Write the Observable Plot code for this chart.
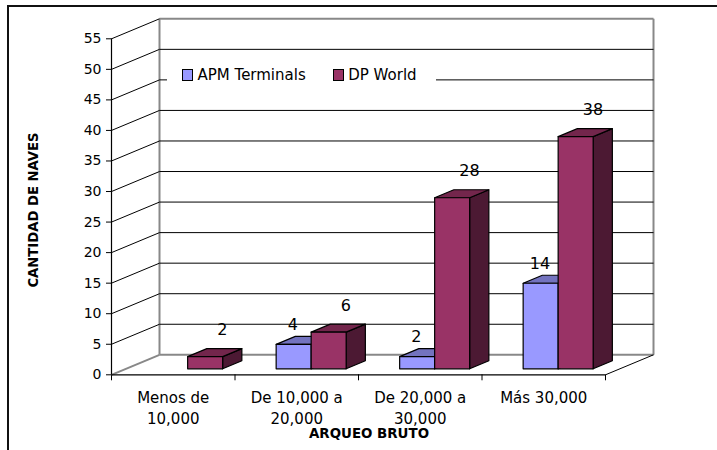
<!DOCTYPE html>
<html>
<head>
<meta charset="utf-8">
<script src="https://cdn.jsdelivr.net/npm/d3@7"></script>
<script src="https://cdn.jsdelivr.net/npm/@observablehq/plot@0.6"></script>
<style>
  body { margin: 0; background: #fff; }
  #wrap { position: relative; width: 717px; height: 450px; overflow: hidden; font-family: "DejaVu Sans", sans-serif; color: #000; }
  #wrap svg { position: absolute; left: 0; top: 0; }
  .frame { position: absolute; left: 7px; top: 4.5px; width: 800px; height: 500px; border-top: 2px solid #111; border-left: 2px solid #111; pointer-events: none; }
  .ytitle { position: absolute; left: 33px; top: 210px; transform: translate(-50%, -50%) rotate(-90deg); font-weight: bold; font-size: 13.2px; white-space: nowrap; }
  .xtitle { position: absolute; left: 369px; top: 433px; transform: translate(-50%, -50%); font-weight: bold; font-size: 13.4px; white-space: nowrap; }
  .legend { position: absolute; left: 167px; top: 61px; width: 269px; height: 27px; background: #fff; display: flex; align-items: center; font-size: 15px; white-space: nowrap; }
  .legend .item { display: flex; align-items: center; }
  .legend .sw { display: inline-block; width: 9px; height: 10px; border: 1px solid #000; margin-right: 4.5px; }
</style>
</head>
<body>
<div id="wrap"></div>
<script>
// ---- data ----
const categories = ["Menos de\n10,000", "De 10,000 a\n20,000", "De 20,000 a\n30,000", "Más 30,000"];
const seriesNames = ["APM Terminals", "DP World"];
const apmValues = [0, 4, 2, 14];
const dpValues = [2, 6, 28, 38];
const yTicks = [0, 5, 10, 15, 20, 25, 30, 35, 40, 45, 50, 55];
const xTitle = "ARQUEO BRUTO";
const yTitle = "CANTIDAD DE NAVES";

// ---- styles ----
const frontColors = ["#9999FF", "#993366"];
const topColors = ["#7373BF", "#73264C"];
const sideColors = ["#4C4C80", "#4C1933"];

// 3D projection: full depth expressed in scale units
const DX = 0.3887;   // category units
const DY = 3.274;    // value units
const BAR_W = 0.2834;
const D0 = 0.3, D1 = 0.7;
const P = (x, y, d) => ({x: x + d * DX, y: y + d * DY});

const seriesValues = [apmValues, dpValues];
const bars = [];
seriesValues.forEach((vals, s) => {
  vals.forEach((v, i) => {
    if (v <= 0) return;
    const c = i + 0.5;
    const xa = s === 0 ? c - BAR_W : c;
    const xb = xa + BAR_W;
    bars.push({s, i, v, xa, xb, cx: (xa + xb) / 2});
  });
});

function faces(kind, s) {
  const out = [];
  bars.filter(b => b.s === s).forEach(b => {
    const id = kind + s + "-" + b.i;
    let pts;
    if (kind === "front") pts = [P(b.xa, 0, D0), P(b.xb, 0, D0), P(b.xb, b.v, D0), P(b.xa, b.v, D0)];
    else if (kind === "top") pts = [P(b.xa, b.v, D0), P(b.xb, b.v, D0), P(b.xb, b.v, D1), P(b.xa, b.v, D1)];
    else pts = [P(b.xb, 0, D0), P(b.xb, 0, D1), P(b.xb, b.v, D1), P(b.xb, b.v, D0)];
    pts.forEach(p => out.push({id, x: p.x, y: p.y}));
  });
  return out;
}

const nCat = categories.length;
const yMax = yTicks[yTicks.length - 1];
// wall structure from ticks
const diagonals = yTicks.filter(v => v > 0).map(v => ({x1: 0, y1: v, x2: DX, y2: v + DY}));
const backGrid = yTicks.filter(v => v > 0 && v < yMax).map(v => ({x1: DX, y1: v + DY, x2: nCat + DX, y2: v + DY}));
const wallEdges = [
  {x1: DX, y1: DY, x2: DX, y2: yMax + DY},
  {x1: nCat + DX, y1: DY, x2: nCat + DX, y2: yMax + DY},
  {x1: DX, y1: yMax + DY, x2: nCat + DX, y2: yMax + DY},
  {x1: DX, y1: DY, x2: nCat + DX, y2: DY},
  {x1: 0, y1: 0, x2: DX, y2: DY}
];
const floorRight = [{x1: nCat, y1: 0, x2: nCat + DX, y2: DY}];

const barMarks = [];
[0, 1].forEach(s => {
  barMarks.push(Plot.line(faces("side", s), {x: "x", y: "y", z: "id", fill: sideColors[s], stroke: "#000", strokeWidth: 1.2, curve: "linear-closed", strokeLinejoin: "round"}));
  barMarks.push(Plot.line(faces("top", s), {x: "x", y: "y", z: "id", fill: topColors[s], stroke: "#000", strokeWidth: 1.2, curve: "linear-closed", strokeLinejoin: "round"}));
  barMarks.push(Plot.line(faces("front", s), {x: "x", y: "y", z: "id", fill: frontColors[s], stroke: "#000", strokeWidth: 1.2, curve: "linear-closed", strokeLinejoin: "round"}));
});

const labelOffsets = [{dx: -0.7, dy: -19.3}, {dx: 17.3, dy: -26.5}];
const labelMarks = [0, 1].map(s => Plot.text(bars.filter(b => b.s === s), {
  x: b => b.cx + D0 * DX, y: b => b.v + D0 * DY, text: b => String(b.v),
  dx: labelOffsets[s].dx, dy: labelOffsets[s].dy, fontSize: 16, fill: "#000", textAnchor: "middle", lineAnchor: "middle"
}));

const catData = categories.map((c, i) => ({label: c, x: i + 0.5}));

const chart = Plot.plot({
  width: 717,
  height: 450,
  marginLeft: 111,
  marginRight: 112,
  marginTop: 38.3,
  marginBottom: 75.7,
  style: {fontFamily: "DejaVu Sans, sans-serif", fontSize: "14px", background: "transparent", color: "#000"},
  x: {domain: [0, nCat], ticks: d3.range(nCat + 1), tickFormat: () => "", tickSize: 6, label: null},
  y: {domain: [0, yMax], ticks: yTicks, tickSize: 5, tickPadding: 5, label: null},
  marks: [
    Plot.link(wallEdges, {x1: "x1", y1: "y1", x2: "x2", y2: "y2", stroke: "#888", strokeWidth: 2}),
    Plot.link(backGrid, {x1: "x1", y1: "y1", x2: "x2", y2: "y2", stroke: "#000", strokeWidth: 1}),
    Plot.link(diagonals, {x1: "x1", y1: "y1", x2: "x2", y2: "y2", stroke: "#000", strokeWidth: 1}),
    Plot.link(floorRight, {x1: "x1", y1: "y1", x2: "x2", y2: "y2", stroke: "#000", strokeWidth: 1}),
    Plot.ruleY([0], {stroke: "#000", strokeWidth: 1.2}),
    Plot.ruleX([0], {stroke: "#000", strokeWidth: 1.2}),
    ...barMarks,
    ...labelMarks,
    Plot.text(catData, {x: "x", y: () => 0, text: "label", dy: 13.5, lineAnchor: "top", lineHeight: 1.38, fontSize: 15, fill: "#000", textAnchor: "middle"})
  ]
});

const wrap = document.getElementById("wrap");
wrap.appendChild(chart);

const frame = document.createElement("div");
frame.className = "frame";
wrap.appendChild(frame);

const yt = document.createElement("div");
yt.className = "ytitle";
yt.textContent = yTitle;
wrap.appendChild(yt);

const xt = document.createElement("div");
xt.className = "xtitle";
xt.textContent = xTitle;
wrap.appendChild(xt);

const legend = document.createElement("div");
legend.className = "legend";
seriesNames.forEach((name, s) => {
  const item = document.createElement("span");
  item.className = "item";
  item.style.marginLeft = s === 0 ? "15px" : "27px";
  const sw = document.createElement("span");
  sw.className = "sw";
  sw.style.background = frontColors[s];
  item.appendChild(sw);
  const t = document.createElement("span");
  t.textContent = name;
  item.appendChild(t);
  legend.appendChild(item);
});
wrap.appendChild(legend);
</script>
</body>
</html>
